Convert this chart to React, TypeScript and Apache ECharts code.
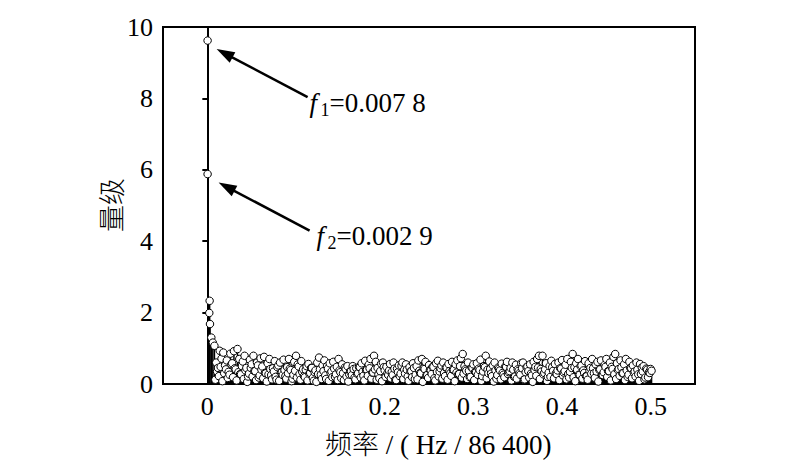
import React, { useEffect, useRef } from "react";
import * as echarts from "echarts";

// Low-frequency components (frequency on the axis scale, magnitude)
const lowFreqs = [0.0003, 0.0003, 0.0022, 0.0026, 0.003, 0.0045, 0.0062];
const lowMags = [5.88, 9.62, 1.99, 2.33, 1.68, 1.3, 1.16];

// Main spectrum: frequencies start at 0.008 with step 0.002 up to 0.5
const mainStart = 0.008;
const mainStep = 0.002;
const mainMags = [
  1.07, 0.6, 0.45, 0.93, 0.71, 0.88, 0.52,
  0.66, 0.34, 0.85, 0.58, 0.92, 0.41, 0.98, 0.7, 0.27, 0.63,
  0.79, 0.45, 0.21, 0.68, 0.55, 0.79, 0.36, 0.6, 0.18, 0.72,
  0.49, 0.76, 0.3, 0.58, 0.7, 0.25, 0.44, 0.64, 0.12, 0.52,
  0.6, 0.33, 0.68, 0.22, 0.47, 0.7, 0.39, 0.15, 0.62, 0.79,
  0.55, 0.28, 0.64, 0.41, 0.19, 0.5, 0.56, 0.31, 0.45, 0.09,
  0.38, 0.6, 0.74, 0.26, 0.52, 0.66, 0.14, 0.43, 0.58, 0.35,
  0.62, 0.2, 0.48, 0.7, 0.33, 0.55, 0.11, 0.42, 0.5, 0.27,
  0.36, 0.5, 0.18, 0.44, 0.3, 0.47, 0.58, 0.23, 0.65, 0.4,
  0.54, 0.7, 0.32, 0.79, 0.62, 0.45, 0.16, 0.57, 0.6, 0.38,
  0.48, 0.25, 0.56, 0.34, 0.6, 0.12, 0.43, 0.52, 0.29, 0.6,
  0.4, 0.55, 0.21, 0.47, 0.36, 0.58, 0.14, 0.5, 0.66, 0.31,
  0.7, 0.44, 0.62, 0.25, 0.53, 0.38, 0.48, 0.16, 0.58, 0.65,
  0.35, 0.52, 0.6, 0.22, 0.46, 0.56, 0.3, 0.62, 0.4, 0.55,
  0.66, 0.28, 0.72, 0.84, 0.5, 0.37, 0.6, 0.19, 0.46, 0.55,
  0.34, 0.58, 0.43, 0.68, 0.22, 0.5, 0.79, 0.4, 0.63, 0.29,
  0.52, 0.6, 0.15, 0.46, 0.38, 0.57, 0.26, 0.49, 0.62, 0.33,
  0.45, 0.6, 0.2, 0.54, 0.41, 0.3, 0.58, 0.6, 0.13, 0.47,
  0.36, 0.55, 0.24, 0.62, 0.48, 0.7, 0.79, 0.42, 0.79, 0.31,
  0.58, 0.2, 0.5, 0.65, 0.37, 0.56, 0.28, 0.6, 0.44, 0.67,
  0.32, 0.54, 0.7, 0.18, 0.62, 0.84, 0.47, 0.58, 0.7, 0.26,
  0.52, 0.38, 0.64, 0.22, 0.58, 0.45, 0.7, 0.3, 0.55, 0.62,
  0.4, 0.66, 0.25, 0.53, 0.7, 0.36, 0.6, 0.48, 0.76, 0.84,
  0.58, 0.42, 0.66, 0.3, 0.55, 0.7, 0.2, 0.62, 0.44, 0.52,
  0.35, 0.6, 0.27, 0.56, 0.46, 0.5, 0.18, 0.4, 0.33, 0.42,
];

// Interleaved spectrum lines: start at 0.009, step 0.002
const midStart = 0.009;
const midMags = [
  0.12, 0.35, 0.22, 0.48, 0.08, 0.3, 0.41, 0.17, 0.26, 0.55,
  0.19, 0.44, 0.1, 0.33, 0.28, 0.5, 0.14, 0.38, 0.06, 0.29,
  0.45, 0.21, 0.36, 0.11, 0.52, 0.24, 0.4, 0.16, 0.31, 0.07,
  0.27, 0.42, 0.13, 0.35, 0.2, 0.47, 0.09, 0.32, 0.25, 0.39,
  0.15, 0.3, 0.43, 0.08, 0.26, 0.37, 0.18, 0.49, 0.12, 0.34,
  0.22, 0.4, 0.1, 0.29, 0.45, 0.17, 0.33, 0.06, 0.28, 0.41,
  0.14, 0.36, 0.24, 0.5, 0.09, 0.31, 0.19, 0.43, 0.27, 0.11,
  0.38, 0.16, 0.3, 0.46, 0.21, 0.07, 0.35, 0.25, 0.42, 0.13,
  0.29, 0.48, 0.18, 0.34, 0.1, 0.39, 0.23, 0.44, 0.15, 0.32,
  0.41, 0.12, 0.27, 0.36, 0.08, 0.47, 0.2, 0.3, 0.38, 0.16,
  0.25, 0.43, 0.11, 0.33, 0.22, 0.51, 0.14, 0.29, 0.4, 0.09,
  0.35, 0.19, 0.45, 0.26, 0.13, 0.37, 0.3, 0.06, 0.42, 0.24,
  0.17, 0.39, 0.28, 0.48, 0.1, 0.34, 0.21, 0.44, 0.15, 0.31,
  0.46, 0.12, 0.36, 0.23, 0.4, 0.08, 0.32, 0.27, 0.5, 0.18,
  0.29, 0.41, 0.14, 0.37, 0.2, 0.45, 0.11, 0.33, 0.26, 0.39,
  0.09, 0.35, 0.47, 0.16, 0.3, 0.42, 0.22, 0.07, 0.38, 0.25,
  0.43, 0.13, 0.31, 0.19, 0.48, 0.28, 0.36, 0.1, 0.4, 0.21,
  0.15, 0.37, 0.26, 0.44, 0.12, 0.33, 0.49, 0.18, 0.29, 0.06,
  0.39, 0.23, 0.46, 0.14, 0.35, 0.27, 0.41, 0.09, 0.32, 0.2,
  0.47, 0.16, 0.3, 0.38, 0.11, 0.43, 0.24, 0.36, 0.13, 0.28,
  0.34, 0.45, 0.19, 0.08, 0.4, 0.26, 0.5, 0.15, 0.31, 0.22,
  0.12, 0.37, 0.29, 0.44, 0.17, 0.35, 0.07, 0.41, 0.25, 0.33,
  0.48, 0.2, 0.36, 0.1, 0.42, 0.27, 0.14, 0.39, 0.23, 0.46,
  0.3, 0.11, 0.38, 0.26, 0.45, 0.16, 0.32, 0.21, 0.4, 0.09,
  0.28, 0.35, 0.13, 0.43, 0.19, 0.31, 0.37,
];

const xTickValues = [0, 0.1, 0.2, 0.3, 0.4, 0.5];
const yTickInterval = 2;
const xAxisTitle = "频率 / ( Hz / 86 400)";
const yAxisTitle = "量级";
const annotations = [
  { name: "f", sub: "1", value: "=0.007 8", freq: 0.0003, mag: 9.62 },
  { name: "f", sub: "2", value: "=0.002 9", freq: 0.0003, mag: 5.88 },
];

const SERIF = "'Liberation Serif', 'Times New Roman', serif";
const CJK = "'Liberation Serif', 'Noto Sans CJK SC', serif";

export default function App() {
  const ref = useRef<HTMLDivElement>(null);
  useEffect(() => {
    if (!ref.current) return;
    const chart = echarts.init(ref.current, undefined, { renderer: "svg" });
    const data: number[][] = [];
    lowFreqs.forEach((f, i) => data.push([f, lowMags[i]]));
    mainMags.forEach((m, i) => {
      data.push([mainStart + i * mainStep, m]);
      if (i < midMags.length) data.push([midStart + i * mainStep, midMags[i]]);
    });

    chart.setOption({
      animation: false,
      backgroundColor: "#fff",
      grid: {
        left: 163,
        right: 105,
        top: 27,
        bottom: 77,
        show: true,
        borderColor: "#000",
        borderWidth: 2,
        backgroundColor: "transparent",
      },
      xAxis: {
        type: "value",
        min: -0.05,
        max: 0.55,
        axisLine: { show: true, onZero: false, lineStyle: { color: "#000", width: 2 } },
        axisTick: { show: false },
        splitLine: { show: false },
        axisLabel: {
          customValues: xTickValues,
          formatter: (v: number) => String(v),
          color: "#000",
          fontSize: 26,
          fontFamily: SERIF,
          margin: 9,
        },
      },
      yAxis: {
        type: "value",
        min: 0,
        max: 10,
        interval: yTickInterval,
        axisLine: { show: true, lineStyle: { color: "#000", width: 2 } },
        axisTick: { show: true, inside: false, length: 5, lineStyle: { color: "#000", width: 2 } },
        splitLine: { show: false },
        axisLabel: { color: "#000", fontSize: 26, fontFamily: SERIF, margin: 10 },
      },
      series: [
        {
          type: "custom",
          data,
          clip: true,
          renderItem: (params: any, api: any) => {
            const x = api.value(0);
            const y = api.value(1);
            const p0 = api.coord([x, 0]);
            const p1 = api.coord([x, y]);
            return {
              type: "line",
              shape: { x1: p0[0], y1: p0[1], x2: p1[0], y2: p1[1] },
              style: { stroke: "#000", lineWidth: y > 3 ? 1 : 1.5 },
            };
          },
          z: 2,
        },
        {
          type: "scatter",
          data,
          symbol: "circle",
          symbolSize: 7.5,
          itemStyle: { color: "#fff", borderColor: "#000", borderWidth: 1, opacity: 1 },
          z: 3,
        },
      ],
    });

    const graphics: any[] = [];
    const offs = [
      { tip: [9, 8.5], text: 102 },
      { tip: [11, 8.5], text: 109 },
    ];
    annotations.forEach((a, k) => {
      const p = chart.convertToPixel({ gridIndex: 0 }, [a.freq, a.mag]) as number[];
      const tip = [p[0] + offs[k].tip[0], p[1] + offs[k].tip[1]];
      const tail = [tip[0] + 91, tip[1] + 48];
      const dx = tail[0] - tip[0];
      const dy = tail[1] - tip[1];
      const len = Math.sqrt(dx * dx + dy * dy);
      const ux = dx / len;
      const uy = dy / len;
      const L = 18;
      const W = 6;
      const bx = tip[0] + ux * L;
      const by = tip[1] + uy * L;
      graphics.push({
        type: "line",
        shape: { x1: bx - ux * 2, y1: by - uy * 2, x2: tail[0], y2: tail[1] },
        style: { stroke: "#000", lineWidth: 2.5 },
        z: 10,
      });
      graphics.push({
        type: "polygon",
        shape: {
          points: [
            [tip[0], tip[1]],
            [bx - uy * W, by + ux * W],
            [bx + uy * W, by - ux * W],
          ],
        },
        style: { fill: "#000" },
        z: 10,
      });
      const tx = p[0] + offs[k].text;
      const ty = p[1] + 62;
      graphics.push({
        type: "text",
        x: tx,
        y: ty,
        style: {
          text: a.name,
          fontFamily: SERIF,
          fontStyle: "italic",
          fontSize: 27,
          fill: "#000",
          align: "left",
          verticalAlign: "middle",
        },
        z: 10,
      });
      graphics.push({
        type: "text",
        x: tx + 11,
        y: ty + 7,
        style: {
          text: a.sub,
          fontFamily: SERIF,
          fontSize: 18,
          fill: "#000",
          align: "left",
          verticalAlign: "middle",
        },
        z: 10,
      });
      graphics.push({
        type: "text",
        x: tx + 20,
        y: ty,
        style: {
          text: a.value,
          fontFamily: SERIF,
          fontSize: 27,
          fill: "#000",
          align: "left",
          verticalAlign: "middle",
        },
        z: 10,
      });
    });
    graphics.push({
      type: "text",
      x: 325,
      y: 445,
      style: {
        text: xAxisTitle,
        fontFamily: CJK,
        fontWeight: 300,
        fontSize: 27,
        fill: "#000",
        align: "left",
        verticalAlign: "middle",
      },
    });
    graphics.push({
      type: "text",
      x: 113,
      y: 205,
      rotation: Math.PI / 2,
      style: {
        text: yAxisTitle,
        fontFamily: CJK,
        fontWeight: 300,
        fontSize: 27,
        fill: "#000",
        align: "center",
        verticalAlign: "middle",
      },
    });
    chart.setOption({ graphic: graphics });

    return () => chart.dispose();
  }, []);
  return (
    <div
      ref={ref}
      style={{ position: "fixed", left: 0, top: 0, width: 800, height: 461 }}
    />
  );
}
